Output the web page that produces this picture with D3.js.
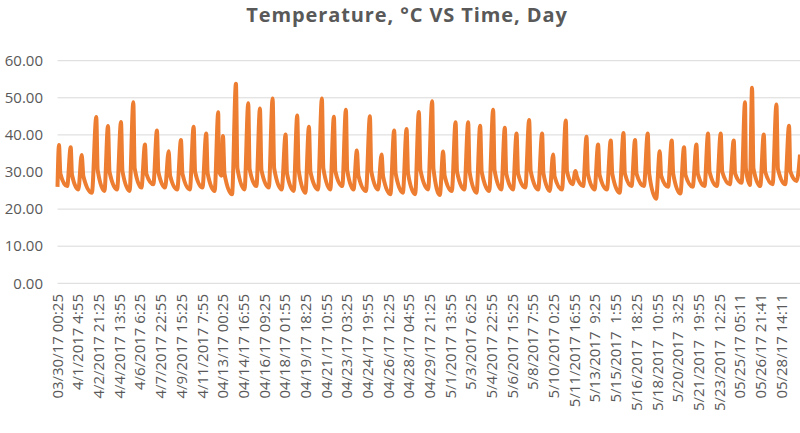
<!DOCTYPE html>
<html>
<head>
<meta charset="utf-8">
<script src="https://cdn.jsdelivr.net/npm/d3@7"></script>
<style>
  body { margin: 0; background: #fff; }
  #chart { width: 800px; height: 433px; }
  text { font-family: "Open Sans", sans-serif; fill: #595959; }
</style>
</head>
<body>
<div id="chart"></div>
<script>
// category labels, one every 486 samples
const timeLabels = [
  "03/30/17 00:25", "4/1/2017 4:55", "4/2/2017 21:25", "4/4/2017 13:55",
  "4/6/2017 6:25", "4/7/2017 22:55", "4/9/2017 15:25", "4/11/2017 7:55",
  "04/13/17 00:25", "04/14/17 16:55", "04/16/17 09:25", "04/18/17 01:55",
  "04/19/17 18:25", "04/21/17 10:55", "04/23/17 03:25", "04/24/17 19:55",
  "04/26/17 12:25", "04/28/17 04:55", "04/29/17 21:25", "5/1/2017 13:55",
  "5/3/2017 6:25", "5/4/2017 22:55", "5/6/2017 15:25", "5/8/2017 7:55",
  "5/10/2017 0:25", "5/11/2017 16:55", "5/13/2017  9:25", "5/15/2017  1:55",
  "5/16/2017  18:25", "5/18/2017  10:55", "5/20/2017  3:25", "5/21/2017  19:55",
  "5/23/2017  12:25", "05/25/17 05:11", "05/26/17 21:41", "05/28/17 14:11"
];
const labelStep = 486;
const yTicks = [0, 10, 20, 30, 40, 50, 60];

// readings (sample number, temperature °C)
const startTemp = 26.0;
const endSample = 17448;
const endTemp = 34.7;

// daily peaks
const peakSample = [
  35, 310, 568, 911, 1186, 1492, 1781, 2055, 2337, 2612,
  2901, 3199, 3495, 3777, 3888, 4193, 4482, 4757, 5055, 5360,
  5633, 5908, 6213, 6495, 6777, 7035, 7341, 7616, 7911, 8203,
  8491, 8804, 9062, 9354, 9650, 9932, 10237, 10512, 10787, 11083,
  11388, 11646, 11945, 12173, 12431, 12703, 13001, 13300, 13572, 13870,
  14152, 14434, 14723, 15014, 15287, 15585, 15891, 16156, 16321, 16596,
  16894, 17190
];
const peakTemp = [
  37.3, 36.7, 34.6, 44.8, 42.4, 43.5, 48.8, 37.4, 41.2, 35.6,
  38.6, 42.2, 40.4, 46.1, 39.7, 53.8, 48.5, 47.1, 49.8, 40.1,
  45.2, 42.2, 49.8, 44.9, 46.8, 35.8, 45.0, 34.7, 41.2, 41.6,
  46.2, 49.1, 35.5, 43.4, 43.4, 42.5, 46.8, 41.9, 40.4, 44.0,
  40.4, 34.7, 43.9, 30.3, 39.5, 37.4, 38.5, 40.5, 38.6, 40.4,
  35.6, 38.5, 36.7, 37.4, 40.4, 40.4, 38.5, 48.8, 52.7, 40.1,
  48.2, 42.5
];
// level just after each peak
const dropTemp = [
  29.5, 29.2, 28.8, 30.5, 30.0, 30.2, 31.0, 29.5, 30.0, 29.0,
  29.5, 30.0, 29.6, 30.5, 29.5, 31.0, 30.8, 30.5, 31.0, 29.6,
  30.5, 30.0, 31.0, 30.2, 30.5, 29.0, 30.2, 28.8, 29.6, 29.6,
  30.5, 30.8, 29.0, 30.0, 30.0, 30.0, 30.5, 29.6, 29.6, 30.2,
  29.6, 28.8, 30.2, 28.8, 29.5, 29.2, 29.5, 29.6, 29.5, 29.6,
  29.0, 29.5, 29.2, 29.5, 30.0, 30.0, 29.6, 31.0, 31.0, 30.0,
  30.8, 30.2
];
// lowest reading before the next rise
const lowTemp = [
  26.2, 25.3, 24.4, 24.9, 25.3, 24.9, 25.8, 26.7, 25.8, 25.3,
  25.3, 25.8, 24.9, 29.0, 24.0, 25.3, 26.2, 25.8, 25.3, 24.9,
  24.4, 25.3, 25.3, 26.2, 25.3, 24.9, 25.3, 24.0, 24.4, 24.0,
  25.3, 23.8, 24.9, 25.3, 24.4, 24.9, 25.3, 25.3, 25.8, 25.3,
  24.9, 25.3, 26.7, 26.2, 25.3, 25.3, 24.4, 26.2, 26.2, 22.8,
  26.0, 24.2, 26.0, 26.2, 26.2, 26.7, 27.1, 26.5, 26.2, 26.7,
  26.7, 27.6
];

const width = 800;
const height = 433;
const plot = { left: 57.5, right: 800, top: 60.7, bottom: 283.3 };

const svg = d3.select("#chart")
  .append("svg")
  .attr("width", width)
  .attr("height", height);

const x = d3.scaleLinear()
  .domain([0, endSample])
  .range([plot.left, plot.right]);

const y = d3.scaleLinear()
  .domain([0, 60])
  .range([plot.bottom, plot.top]);

// build the reading sequence: peak, drop, low, next peak...
const readings = [{ s: 0, t: startTemp }];
peakSample.forEach((p, k) => {
  const next = k < peakSample.length - 1 ? peakSample[k + 1] : endSample;
  const gap = next - p;
  readings.push({ s: p, t: peakTemp[k] });
  readings.push({ s: p + gap * 0.12, t: dropTemp[k] });
  readings.push({ s: next - gap * 0.3, t: lowTemp[k] });
});
readings.push({ s: endSample, t: endTemp });

// gridlines
svg.append("g")
  .selectAll("line")
  .data(yTicks)
  .enter()
  .append("line")
  .attr("x1", plot.left)
  .attr("x2", plot.right)
  .attr("y1", d => y(d))
  .attr("y2", d => y(d))
  .attr("stroke", "#d9d9d9")
  .attr("stroke-width", 1);

// y labels
svg.append("g")
  .selectAll("text")
  .data(yTicks)
  .enter()
  .append("text")
  .attr("x", 43)
  .attr("y", d => y(d))
  .attr("dy", "0.35em")
  .attr("text-anchor", "end")
  .style("font-size", "15px")
  .text(d => d.toFixed(2));

// x labels
svg.append("g")
  .selectAll("text")
  .data(timeLabels)
  .enter()
  .append("text")
  .attr("transform", (d, i) => `translate(${x(i * labelStep)}, 294) rotate(-90)`)
  .attr("dy", "0.35em")
  .attr("text-anchor", "end")
  .style("font-size", "15px")
  .style("white-space", "pre")
  .text(d => d);

// temperature line
const line = d3.line()
  .curve(d3.curveMonotoneX)
  .x(d => x(d.s))
  .y(d => y(d.t));

svg.append("path")
  .datum(readings)
  .attr("fill", "none")
  .attr("stroke", "#ED7D31")
  .attr("stroke-width", 4)
  .attr("stroke-linejoin", "round")
  .attr("d", line);

// title
svg.append("text")
  .attr("x", 407)
  .attr("y", 22)
  .attr("text-anchor", "middle")
  .style("font-size", "20px")
  .style("font-weight", "bold")
  .style("letter-spacing", "0.9px")
  .text("Temperature, \u00B0C VS Time, Day");
</script>
</body>
</html>
